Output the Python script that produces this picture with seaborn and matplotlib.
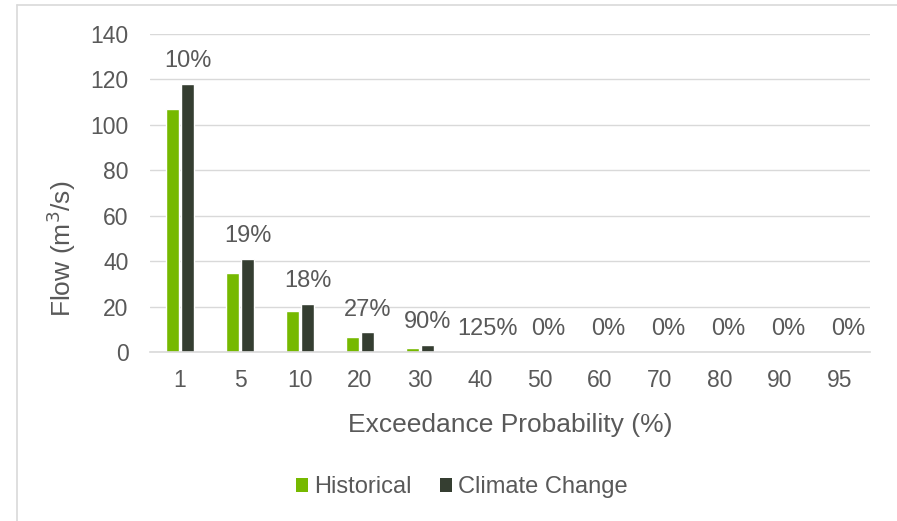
import matplotlib
matplotlib.use("Agg")
import matplotlib.pyplot as plt
from matplotlib.lines import Line2D
from matplotlib.patches import Patch
import seaborn as sns
import pandas as pd

# Flow-duration values by exceedance probability
exceedance = ["1", "5", "10", "20", "30", "40", "50", "60", "70", "80", "90", "95"]
historical = [107.0, 34.6, 18.0, 6.8, 1.58, 0.10, 0, 0, 0, 0, 0, 0]
climate_change = [118.0, 41.0, 21.3, 8.6, 3.0, 0.225, 0, 0, 0, 0, 0, 0]
pct_change = ["10%", "19%", "18%", "27%", "90%", "125%", "0%", "0%", "0%", "0%", "0%", "0%"]
series_names = ["Historical", "Climate Change"]
colors = ["#76B900", "#353E31"]

TEXT = "#595959"
GRID = "#D9D9D9"

df = pd.DataFrame({
    "Exceedance": exceedance * 2,
    "Flow": historical + climate_change,
    "Series": [series_names[0]] * len(exceedance) + [series_names[1]] * len(exceedance),
})

sns.set_theme(style="white")
plt.rcParams["font.family"] = ["Liberation Sans", "DejaVu Sans"]

fig = plt.figure(figsize=(8.97, 5.21), dpi=100)
ax = fig.add_axes([150 / 897, 1 - 352 / 521, 720 / 897, 318 / 521])

sns.barplot(data=df, x="Exceedance", y="Flow", hue="Series", order=exceedance,
            hue_order=series_names, palette=colors, width=0.52, gap=0.17,
            saturation=1, ax=ax, legend=False)

ax.set_ylim(0, 140)
ax.set_yticks(range(0, 141, 20))
ax.set_xlim(-0.5, len(exceedance) - 0.5)
ax.grid(axis="y", color=GRID, linewidth=1.0)
ax.set_axisbelow(True)
for side in ["top", "right", "left"]:
    ax.spines[side].set_visible(False)
ax.spines["bottom"].set_color(GRID)
ax.spines["bottom"].set_linewidth(1.2)

ax.tick_params(axis="x", length=0, pad=12, labelsize=16.5, labelcolor=TEXT)
ax.tick_params(axis="y", length=0, pad=15.5, labelsize=16.5, labelcolor=TEXT)

ax.set_xlabel("Exceedance Probability (%)", fontsize=19, color=TEXT)
ax.xaxis.set_label_coords(0.5, (352 - 413) / 318)
ax.set_ylabel("Flow (m$^3$/s)", fontsize=19, color=TEXT)
ax.yaxis.label.set_va("center")
ax.yaxis.set_label_coords((61 - 150) / 720, (352 - 249) / 318)

# Percent change labels above the climate-change bars
cc_bars = ax.containers[1]
for bar, lab in zip(cc_bars, pct_change):
    cx = bar.get_x() + bar.get_width() / 2
    ax.annotate(lab, (cx, bar.get_height()), xytext=(0, 12.2),
                textcoords="offset points", ha="center", va="baseline",
                fontsize=17, color=TEXT)

handles = [Patch(facecolor=c, edgecolor="none") for c in colors]
fig.legend(handles, series_names, loc="center", bbox_to_anchor=(462 / 897, 1 - 487 / 521),
           ncol=2, frameon=False, fontsize=17, handlelength=0.52, handleheight=0.52,
           handletextpad=0.25, columnspacing=1.2, borderpad=0, labelcolor=TEXT)

# Chart-area border (top and left edges)
fig.add_artist(Line2D([16.5 / 897, 16.5 / 897], [0, 1 - 5 / 521], color=GRID, lw=1.2,
                      transform=fig.transFigure))
fig.add_artist(Line2D([16.5 / 897, 1], [1 - 5 / 521, 1 - 5 / 521], color=GRID, lw=1.2,
                      transform=fig.transFigure))

fig.savefig("out.png", dpi=100, facecolor="white")
